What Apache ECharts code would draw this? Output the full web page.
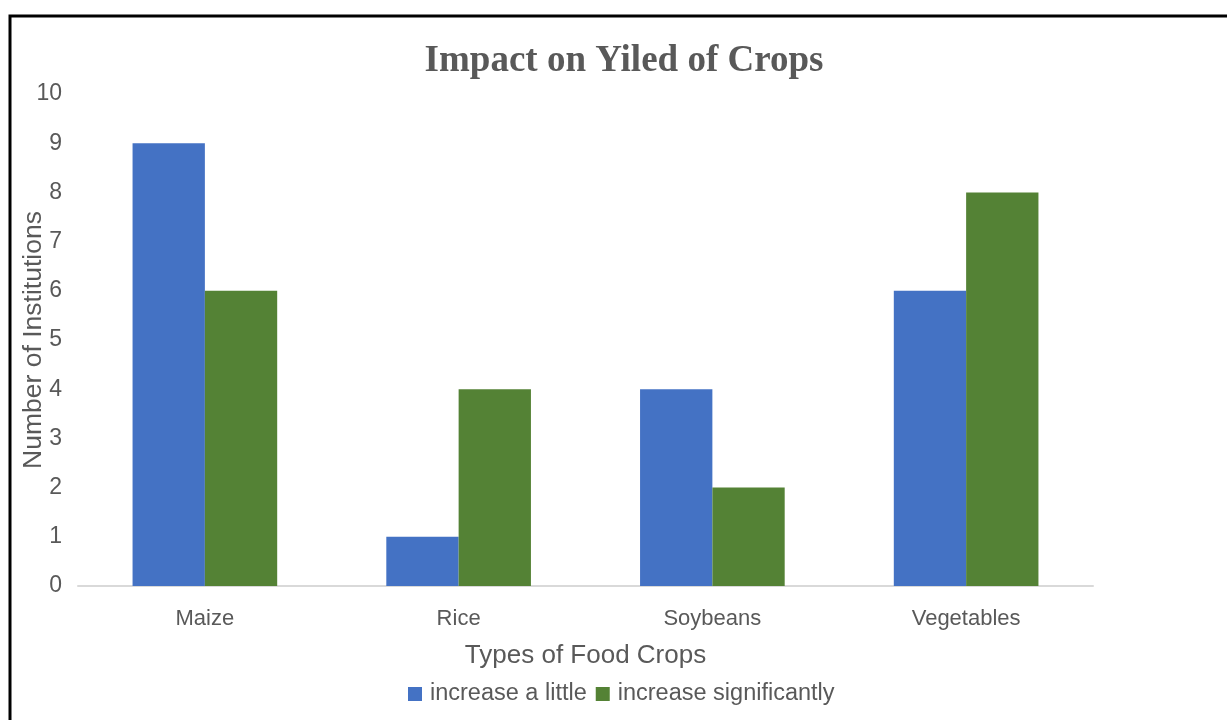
<!DOCTYPE html>
<html>
<head>
<meta charset="utf-8">
<title>Impact on Yiled of Crops</title>
<script src="https://cdn.jsdelivr.net/npm/echarts@6/dist/echarts.min.js"></script>
<style>
  html, body { margin: 0; padding: 0; background: #ffffff; }
  #chart { width: 1227px; height: 720px; }
</style>
</head>
<body>
<div id="chart"></div>
<script>
// Crop categories and the number of institutions reporting each yield change
const categories = ['Maize', 'Rice', 'Soybeans', 'Vegetables'];
const increaseALittle = [9, 1, 4, 6];
const increaseSignificantly = [6, 4, 2, 8];
const seriesNames = ['increase a little', 'increase significantly'];
const yTicks = { min: 0, max: 10, interval: 1 };

const labelGray = '#595959';
const fontSans = 'Liberation Sans, Arial, Helvetica, sans-serif';

const chart = echarts.init(document.getElementById('chart'), null, { renderer: 'canvas' });

chart.setOption({
  backgroundColor: '#ffffff',
  animation: false,
  title: {
    text: 'Impact on Yiled of Crops',
    left: 619,
    top: 38,
    textAlign: 'center',
    textStyle: {
      fontFamily: 'Liberation Serif, Times New Roman, serif',
      fontWeight: 'bold',
      fontSize: 37,
      color: labelGray
    }
  },
  legend: {
    data: seriesNames,
    left: 403,
    top: 677,
    itemWidth: 14,
    itemHeight: 14,
    itemGap: 9,
    icon: 'rect',
    textStyle: {
      fontFamily: fontSans,
      fontSize: 23.5,
      color: labelGray,
      padding: [0, 0, 0, 3]
    }
  },
  grid: {
    left: 78,
    right: 134,
    top: 94,
    bottom: 134,
    containLabel: false,
    outerBoundsMode: 'none'
  },
  xAxis: {
    type: 'category',
    data: categories,
    name: 'Types of Food Crops',
    nameLocation: 'middle',
    nameGap: 57,
    nameMoveOverlap: false,
    nameTextStyle: { fontFamily: fontSans, fontSize: 26, color: labelGray },
    axisLine: { show: true, lineStyle: { color: '#d9d9d9', width: 2 } },
    axisTick: { show: false },
    axisLabel: { margin: 22, fontFamily: fontSans, fontSize: 22, color: labelGray }
  },
  yAxis: {
    type: 'value',
    min: yTicks.min,
    max: yTicks.max,
    interval: yTicks.interval,
    name: 'Number of Institutions',
    nameLocation: 'middle',
    nameRotate: 90,
    nameGap: 31,
    nameMoveOverlap: false,
    nameTextStyle: { fontFamily: fontSans, fontSize: 26.5, color: labelGray },
    axisLine: { show: false },
    axisTick: { show: false },
    splitLine: { show: false },
    axisLabel: { margin: 16, padding: [4, 0, 0, 0], fontFamily: fontSans, fontSize: 23, color: labelGray }
  },
  series: [
    {
      name: seriesNames[0],
      type: 'bar',
      data: increaseALittle,
      barGap: '0%',
      barCategoryGap: '43%',
      itemStyle: { color: '#4472C4' }
    },
    {
      name: seriesNames[1],
      type: 'bar',
      data: increaseSignificantly,
      barGap: '0%',
      barCategoryGap: '43%',
      itemStyle: { color: '#548235' }
    }
  ],
  graphic: [
    {
      // frame around the chart: top and left edges
      type: 'polyline',
      shape: { points: [[10, 720], [10, 16], [1227, 16]] },
      style: { stroke: '#000000', lineWidth: 3, fill: null },
      silent: true
    }
  ]
});
</script>
</body>
</html>
